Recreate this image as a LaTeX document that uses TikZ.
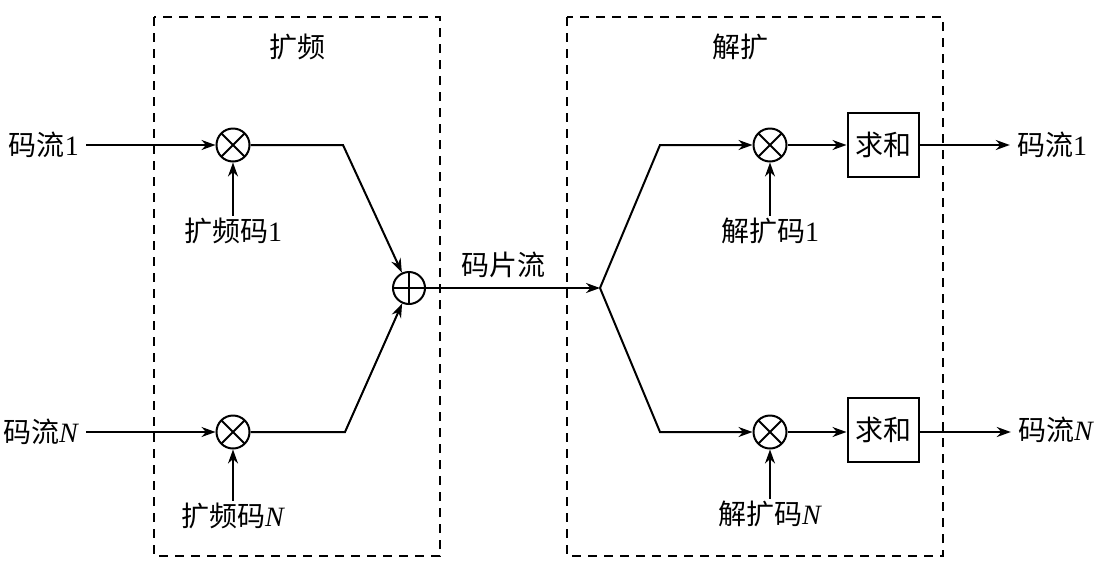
\documentclass[tikz,border=0pt]{standalone}
\usepackage{fontspec}
\setmainfont{Liberation Serif}
\newfontfamily\cjk{Noto Sans CJK SC}
\usetikzlibrary{arrows.meta,calc}
\begin{document}
\begin{tikzpicture}[x=1pt,y=-1pt,
  every node/.style={font=\fontsize{28}{30}\selectfont, inner sep=2pt},
  lbl/.style={inner xsep=7pt},
  arr/.style={line width=2pt,-{Stealth[length=14pt,width=10pt]}},
  mult/.style={circle, draw, line width=2pt, minimum size=33pt, inner sep=0pt,
    path picture={\draw[line width=1.8pt] (path picture bounding box.north west) -- (path picture bounding box.south east)
      (path picture bounding box.north east) -- (path picture bounding box.south west);}},
  adder/.style={circle, draw, line width=2pt, minimum size=32pt, inner sep=0pt,
    path picture={\draw[line width=1.8pt] (path picture bounding box.north) -- (path picture bounding box.south)
      (path picture bounding box.east) -- (path picture bounding box.west);}},
  sumbox/.style={draw, line width=2pt, minimum width=71pt, minimum height=64pt, inner sep=0pt},
  dbox/.style={draw, line width=2pt, dash pattern=on 9pt off 7pt}]
\useasboundingbox (0,0) rectangle (1120,574);
% dashed boxes
\draw[dbox] (154,17) rectangle (440,556);
\draw[dbox] (567,17) rectangle (943,556);
\node (tspread) at (297,47) {\cjk 扩频};
\node (tdespread) at (740,47) {\cjk 解扩};
% spreading
\node[lbl] (in1) at (44,145) {{\cjk 码流}1};
\node[lbl] (inN) at (41,432) {{\cjk 码流}\textit{N}};
\node[mult] (m1) at (233,145) {};
\node[mult] (mN) at (233,432) {};
\node (c1) at (233,231) {{\cjk 扩频码}1};
\node (cN) at (233,516) {{\cjk 扩频码}\textit{N}};
\node[adder] (sum) at (409,288) {};
\coordinate (k1) at (343,145);
\coordinate (kN) at (345,432);
\draw[arr] (in1) -- (m1);
\draw[arr] (inN) -- (mN);
\draw[arr] (c1) -- (m1);
\draw[arr] (cN) -- (mN);
\draw[arr] (m1) -- (k1) -- (sum);
\draw[arr] (mN) -- (kN) -- (sum);
% chip stream
\coordinate (sp) at (600,288);
\node (chip) at (503,265) {\cjk 码片流};
\draw[arr] (sum) -- (sp);
% despreading
\coordinate (u1) at (660,145);
\coordinate (uN) at (660,432);
\node[mult] (d1) at (770,145) {};
\node[mult] (dN) at (770,432) {};
\node (dc1) at (770,231) {{\cjk 解扩码}1};
\node (dcN) at (770,514) {{\cjk 解扩码}\textit{N}};
\node[sumbox] (s1) at (883,145) {\cjk 求和};
\node[sumbox] (sN) at (883,430) {\cjk 求和};
\node[lbl] (out1) at (1052,145) {{\cjk 码流}1};
\node[lbl] (outN) at (1056,430) {{\cjk 码流}\textit{N}};
\draw[arr] (sp) -- (u1) -- (d1);
\draw[arr] (sp) -- (uN) -- (dN);
\draw[arr] (dc1) -- (d1);
\draw[arr] (dcN) -- (dN);
\draw[arr] (d1) -- (s1);
\draw[arr] (dN) -- (dN -| s1.west);
\draw[arr] (s1) -- (out1);
\draw[arr] (sN.east |- dN) -- (outN.west |- dN);
\end{tikzpicture}
\end{document}
